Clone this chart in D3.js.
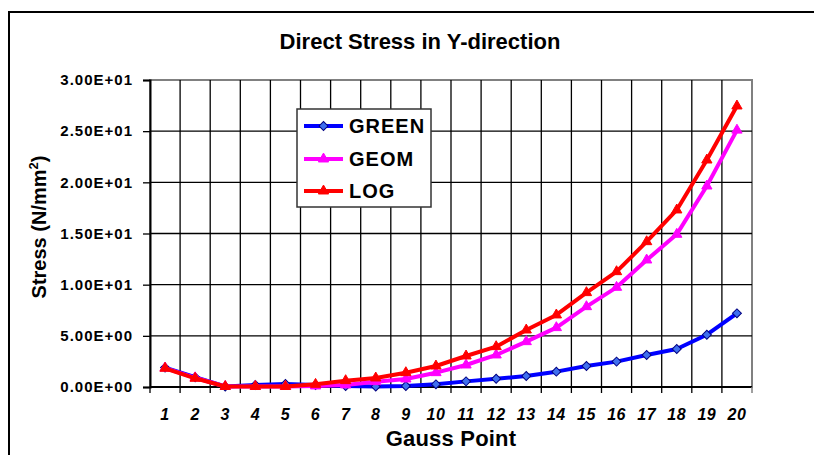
<!DOCTYPE html>
<meta charset="utf-8">
<style>

    body { margin: 0; background: #fff; }
    text { font-family: Arial, "Liberation Sans", sans-serif; font-weight: bold; fill: #000; }
    .grid line { stroke: #000; stroke-width: 1.3; }
    .series { fill: none; stroke-width: 4; stroke-linejoin: round; }

</style>
<svg width="814" height="455"></svg>
<script src="https://d3js.org/d3.v7.min.js"></script>
<script>

    var gaussPoints = ["1","2","3","4","5","6","7","8","9","10","11","12","13","14","15","16","17","18","19","20"];
    var green = [1.9, 0.95, 0.05, 0.2, 0.3, 0.2, 0.1, 0.05, 0.1, 0.26, 0.55, 0.81, 1.07, 1.5, 2.05, 2.48, 3.13, 3.71, 5.11, 7.2];
    var geom  = [1.85, 0.9, 0.05, 0.05, 0.05, 0.1, 0.2, 0.52, 0.78, 1.4, 2.15, 3.13, 4.43, 5.8, 7.85, 9.74, 12.41, 14.92, 19.64, 25.1];
    var logS  = [1.83, 0.85, 0.05, 0.05, 0.05, 0.26, 0.62, 0.88, 1.4, 2.05, 3.03, 3.94, 5.57, 7.04, 9.22, 11.27, 14.2, 17.3, 22.18, 27.46];
    var yTicks = [0, 5, 10, 15, 20, 25, 30];

    var series = [
        {name: "GREEN", values: green, stroke: "#0000ff", fill: "#3f6fef", edge: "#000080", symbol: "diamond"},
        {name: "GEOM",  values: geom,  stroke: "#ff00ff", fill: "#ff00ff", edge: "#ff00ff", symbol: "triangle"},
        {name: "LOG",   values: logS,  stroke: "#ff0000", fill: "#ff0000", edge: "#ff0000", symbol: "triangle"}
    ];

    var svg = d3.select("svg");
    var plotL = 150, plotR = 752, plotT = 80, plotB = 387;

    var x = d3.scaleBand().domain(gaussPoints).range([plotL, plotR]).padding(0);
    var y = d3.scaleLinear().domain([0, 30]).range([plotB, plotT]);
    var cx = function(i) { return x(gaussPoints[i]) + x.bandwidth() / 2; };

    function sci(v) {
        var s = v.toExponential(2).split("e");
        var e = +s[1];
        return s[0] + "E" + (e < 0 ? "-" : "+") + (Math.abs(e) < 10 ? "0" : "") + Math.abs(e);
    }

    // outer chart frame (cropped at right and bottom)
    svg.append("path")
        .attr("d", "M9,455V12H814")
        .attr("fill", "none")
        .attr("stroke", "#000")
        .attr("stroke-width", 2);

    // plot area
    svg.append("rect")
        .attr("x", plotL).attr("y", plotT)
        .attr("width", plotR - plotL).attr("height", plotB - plotT)
        .attr("fill", "#fff")
        .attr("stroke", "#808080")
        .attr("stroke-width", 2);

    var grid = svg.append("g").attr("class", "grid");
    grid.selectAll(".h").data(yTicks.slice(1, -1)).enter().append("line")
        .attr("x1", plotL).attr("x2", plotR)
        .attr("y1", function(d) { return y(d); }).attr("y2", function(d) { return y(d); });
    grid.selectAll(".v").data(gaussPoints.slice(1)).enter().append("line")
        .attr("x1", function(d) { return x(d); }).attr("x2", function(d) { return x(d); })
        .attr("y1", plotT).attr("y2", plotB);

    // y axis
    var yAxis = svg.append("g")
        .attr("transform", "translate(" + plotL + ",0)")
        .call(d3.axisLeft(y).tickValues(yTicks).tickFormat(sci).tickSize(7).tickPadding(10));
    yAxis.select(".domain").attr("stroke", "#000").attr("stroke-width", 2);
    yAxis.selectAll(".tick line").attr("stroke", "#000").attr("stroke-width", 1.3);
    yAxis.selectAll(".tick text")
        .attr("font-family", "Arial, 'Liberation Sans', sans-serif")
        .attr("font-size", 15).attr("font-weight", "bold")
        .style("letter-spacing", "1px")
        .attr("fill", "#000");

    // x axis: ticks on category boundaries, labels at centers
    var xb = svg.append("g");
    xb.append("line").attr("x1", plotL).attr("x2", plotR).attr("y1", plotB).attr("y2", plotB)
        .attr("stroke", "#000").attr("stroke-width", 2);
    xb.selectAll(".xt").data(gaussPoints).enter().append("line")
        .attr("x1", function(d) { return x(d); }).attr("x2", function(d) { return x(d); })
        .attr("y1", plotB).attr("y2", plotB + 6)
        .attr("stroke", "#000").attr("stroke-width", 1.3);
    xb.append("line").attr("x1", plotR).attr("x2", plotR).attr("y1", plotB).attr("y2", plotB + 6)
        .attr("stroke", "#808080").attr("stroke-width", 1.5);
    xb.selectAll(".xl").data(gaussPoints).enter().append("text")
        .attr("x", function(d, i) { return cx(i); })
        .attr("y", 420)
        .attr("text-anchor", "middle")
        .attr("font-size", 16)
        .attr("font-style", "italic")
        .style("letter-spacing", "0.5px")
        .text(function(d) { return d; });

    // series
    var line = d3.line()
        .x(function(d, i) { return cx(i); })
        .y(function(d) { return y(d); });

    var sym = {
        diamond: d3.symbol().type(d3.symbolSquare).size(40),
        triangle: d3.symbol().type(d3.symbolTriangle).size(46)
    };

    series.forEach(function(s) {
        var g = svg.append("g");
        g.append("path")
            .datum(s.values)
            .attr("class", "series")
            .attr("stroke", s.stroke)
            .attr("d", line);
        g.selectAll(".m").data(s.values).enter().append("path")
            .attr("transform", function(d, i) {
                return "translate(" + cx(i) + "," + y(d) + ")" + (s.symbol === "diamond" ? " rotate(45)" : "");
            })
            .attr("d", sym[s.symbol]())
            .attr("fill", s.fill)
            .attr("stroke", s.edge)
            .attr("stroke-width", 1);
    });

    // legend
    var legend = svg.append("g");
    legend.append("rect")
        .attr("x", 297).attr("y", 109).attr("width", 134).attr("height", 98)
        .attr("fill", "#fff").attr("stroke", "#333").attr("stroke-width", 1.5);
    var rows = [126, 159, 191];
    series.forEach(function(s, i) {
        var ly = rows[i];
        legend.append("line")
            .attr("x1", 304).attr("x2", 343).attr("y1", ly).attr("y2", ly)
            .attr("stroke", s.stroke).attr("stroke-width", 4);
        legend.append("path")
            .attr("transform", "translate(323.5," + ly + ")" + (s.symbol === "diamond" ? " rotate(45)" : ""))
            .attr("d", sym[s.symbol]())
            .attr("fill", s.fill).attr("stroke", s.edge).attr("stroke-width", 1);
        legend.append("text")
            .attr("x", 349).attr("y", ly + 7)
            .attr("font-size", 20)
            .style("letter-spacing", "1px")
            .text(s.name);
    });

    // titles
    svg.append("text")
        .attr("x", 420).attr("y", 49)
        .attr("text-anchor", "middle")
        .attr("font-size", 22)
        .text("Direct Stress in Y-direction");

    svg.append("text")
        .attr("x", (plotL + plotR) / 2).attr("y", 446)
        .attr("text-anchor", "middle")
        .attr("font-size", 22)
        .style("letter-spacing", "0.2px")
        .text("Gauss Point");

    var yt = svg.append("text")
        .attr("transform", "translate(46,227) rotate(-90)")
        .attr("text-anchor", "middle")
        .attr("font-size", 20);
    yt.append("tspan").text("Stress (N/mm");
    yt.append("tspan").attr("font-size", 13).attr("dy", -8).text("2");
    yt.append("tspan").attr("dy", 8).text(")");

</script>
